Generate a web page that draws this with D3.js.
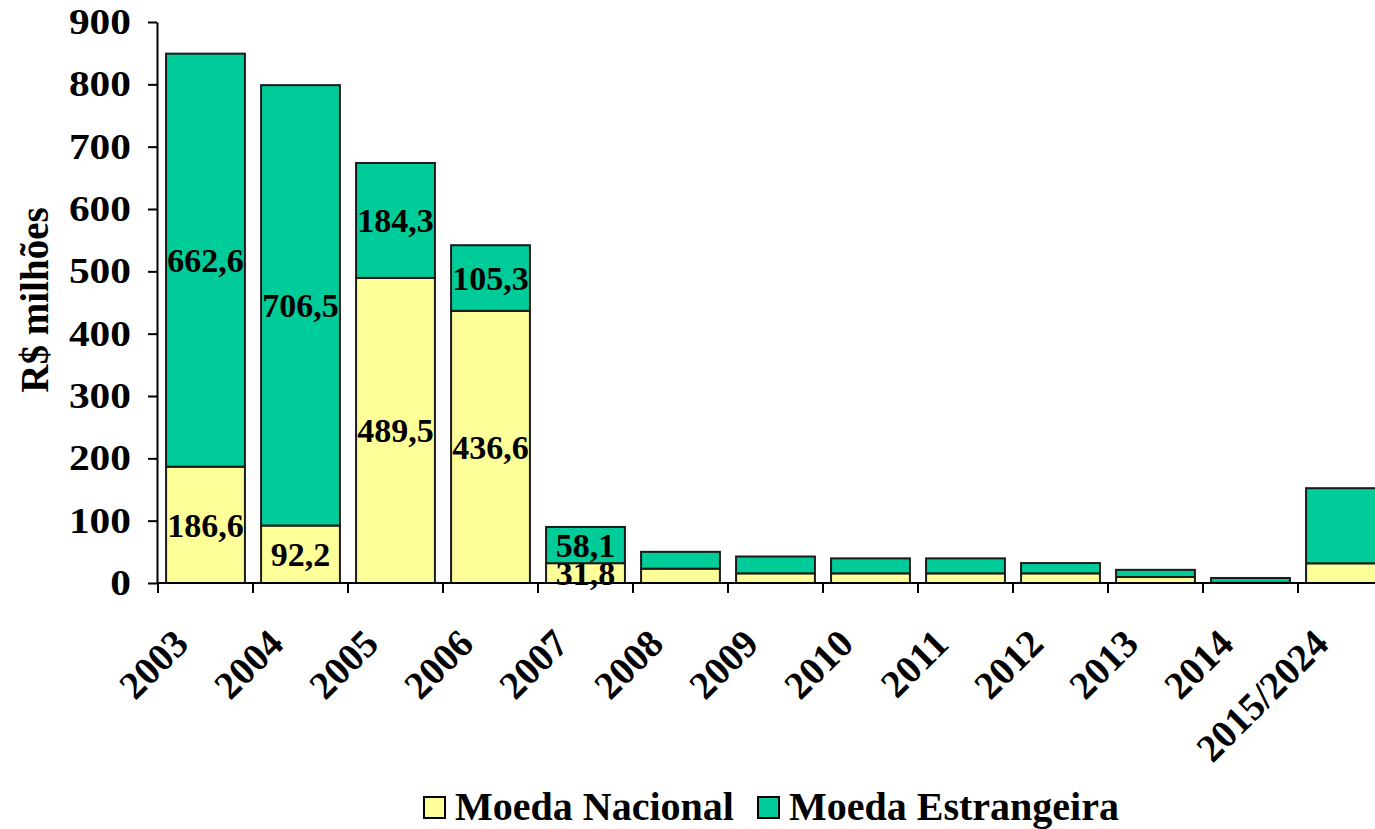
<!DOCTYPE html>
<html>
<head>
<meta charset="utf-8">
<script src="https://cdn.jsdelivr.net/npm/d3@7"></script>
<style>
  body { margin: 0; background: #fff; }
  text { font-family: "Liberation Serif", "Times New Roman", serif; font-weight: bold; }
</style>
</head>
<body>
<div id="chart-area"></div>
<script>
// Data //
const years = ["2003", "2004", "2005", "2006", "2007", "2008", "2009", "2010",
  "2011", "2012", "2013", "2014", "2015/2024"];
const nacional = [186.6, 92.2, 489.5, 436.6, 31.8, 23, 15.5, 15.5, 15.5, 15.5, 9.6, 0.3, 31.6];
const estrangeira = [662.6, 706.5, 184.3, 105.3, 58.1, 27, 27, 24, 24, 16.5, 11.5, 7.7, 120.5];
// only the first five years carry value labels
const labelled = ["2003", "2004", "2005", "2006", "2007"];
const yTicks = [0, 100, 200, 300, 400, 500, 600, 700, 800, 900];
const seriesNames = ["Moeda Nacional", "Moeda Estrangeira"];
const colors = ["#FFFF99", "#00CC99"];

const W = 1375, H = 829;
const svg = d3.select("#chart-area").append("svg")
  .attr("width", W).attr("height", H);

const table = years.map((y, i) => ({ year: y, nacional: nacional[i], estrangeira: estrangeira[i] }));
const stacked = d3.stack().keys(["nacional", "estrangeira"])(table);

// X scale (last band runs past the right edge, as in the original)
const x = d3.scaleBand().domain(years).range([158, 1393]).paddingInner(0.17).paddingOuter(0.085);
const y = d3.scaleLinear().domain([0, 900]).range([583, 22]);

const fmt = v => d3.format(".1f")(v).replace(".", ",");

// Bars
const layers = svg.selectAll("g.layer").data(stacked).enter().append("g")
  .attr("class", "layer")
  .attr("fill", (d, i) => colors[i]);

layers.selectAll("rect").data(d => d).enter().append("rect")
  .attr("x", d => x(d.data.year))
  .attr("width", x.bandwidth())
  .attr("y", d => y(d[1]))
  .attr("height", d => y(d[0]) - y(d[1]))
  .attr("stroke", "#1a1a1a")
  .attr("stroke-width", 2);

// Value labels
layers.selectAll("text.val").data(d => d.filter(p => labelled.includes(p.data.year))).enter()
  .append("text")
  .attr("class", "val")
  .attr("x", d => x(d.data.year) + x.bandwidth() / 2)
  .attr("y", d => (y(d[0]) + y(d[1])) / 2)
  .attr("dy", "0.35em")
  .attr("text-anchor", "middle")
  .attr("font-size", "34px")
  .attr("fill", "#000")
  .text(d => fmt(d[1] - d[0]));

// Y axis
const yAxisCall = d3.axisLeft(y).tickValues(yTicks).tickSize(9).tickSizeOuter(0).tickPadding(16);
const yAxis = svg.append("g").attr("transform", "translate(157,0)").call(yAxisCall);
yAxis.selectAll("text").attr("font-size", "36px").attr("fill", "#000")
  .attr("font-family", "Liberation Serif").attr("transform", "scale(1.15,1)")
  .attr("x", -26 / 1.15);
yAxis.selectAll("line, path").attr("stroke", "#000").attr("stroke-width", 2);

// X axis with ticks between categories
const xAxisG = svg.append("g").attr("transform", "translate(0,583)");
xAxisG.append("line").attr("x1", 157).attr("x2", W).attr("stroke", "#000").attr("stroke-width", 2);
const step = x.step();
xAxisG.selectAll("line.tick").data(years).enter().append("line")
  .attr("class", "tick")
  .attr("x1", d => x(d) - x.paddingOuter() * step)
  .attr("x2", d => x(d) - x.paddingOuter() * step)
  .attr("y1", 0).attr("y2", 10)
  .attr("stroke", "#000").attr("stroke-width", 2);
xAxisG.selectAll("text").data(years).enter().append("text")
  .attr("transform", d => "translate(" + (x(d) + x.bandwidth() / 2 - 15) + ",63) rotate(-45)")
  .attr("text-anchor", "end")
  .attr("font-size", "39px")
  .text(d => d);

// Y label
svg.append("text")
  .attr("transform", "translate(48,300) rotate(-90)")
  .attr("text-anchor", "middle")
  .attr("font-size", "39px")
  .text("R$ milhões");

// Legend
const legendX = [424, 758];
const legend = svg.selectAll("g.legend").data(seriesNames).enter().append("g")
  .attr("class", "legend")
  .attr("transform", (d, i) => "translate(" + legendX[i] + ",797)");
legend.append("rect").attr("width", 21).attr("height", 21)
  .attr("fill", (d, i) => colors[i]).attr("stroke", "#000").attr("stroke-width", 2);
legend.append("text").attr("x", 31).attr("y", 23)
  .attr("font-size", "40px")
  .text(d => d);
</script>
</body>
</html>
